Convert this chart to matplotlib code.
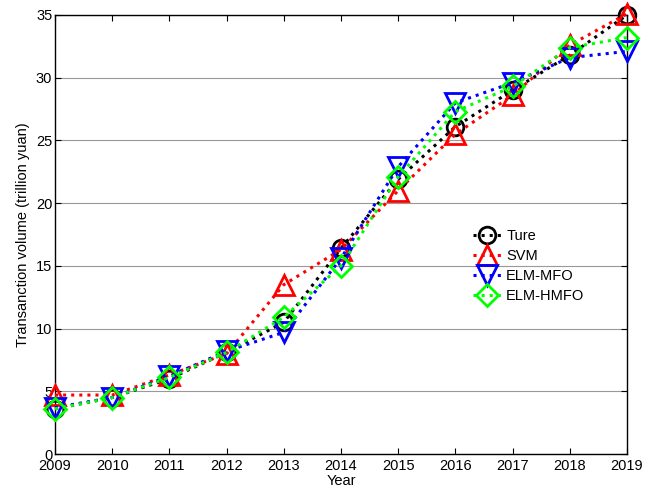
import numpy as np
import matplotlib.pyplot as plt

plt.rcParams['font.family'] = ['Liberation Sans', 'DejaVu Sans']

years = [2009, 2010, 2011, 2012, 2013, 2014, 2015, 2016, 2017, 2018, 2019]
ture = [3.6, 4.5, 6.0, 8.1, 10.5, 16.4, 21.9, 26.1, 29.0, 31.8, 35.0]
svm = [4.7, 4.7, 6.3, 8.0, 13.5, 16.3, 21.0, 25.5, 28.6, 32.6, 35.1]
elm_mfo = [3.7, 4.5, 6.2, 8.2, 9.7, 15.6, 22.9, 28.0, 29.6, 31.6, 32.1]
elm_hmfo = [3.6, 4.5, 6.1, 8.1, 10.9, 15.0, 22.1, 27.3, 29.3, 32.4, 33.2]

series = [
    ('Ture', ture, 'k', 'o', 12),
    ('SVM', svm, 'r', '^', 14),
    ('ELM-MFO', elm_mfo, 'b', 'v', 14),
    ('ELM-HMFO', elm_hmfo, (0, 1, 0), 'D', 11),
]

fig = plt.figure(figsize=(6.51, 4.93), dpi=100)
ax = fig.add_axes([55 / 651, 39 / 493, 572 / 651, 439 / 493])

for name, vals, col, mk, ms in series:
    ax.plot(years, vals, linestyle=':', color=col, linewidth=2.2,
            marker=mk, markersize=ms, markerfacecolor='none',
            markeredgecolor=col, markeredgewidth=2, label=name,
            clip_on=False, zorder=3)

ax.set_xlim(2009, 2019)
ax.set_ylim(0, 35)
ax.set_xticks(years)
ax.set_yticks(np.arange(0, 36, 5))
ax.yaxis.grid(True, color='#999999', linewidth=0.8)
ax.set_axisbelow(True)
ax.tick_params(direction='in', top=True, right=True, labelsize=10.5, length=4)
ax.tick_params(axis='y', pad=2)
for s in ax.spines.values():
    s.set_linewidth(1.0)

ax.set_xlabel('Year', fontsize=10.5, labelpad=1)
ax.set_ylabel('Transanction volume (trillion yuan)', fontsize=10.5, labelpad=4)

ax.legend(loc='upper left', bbox_to_anchor=(0.72, 0.525), frameon=False,
          fontsize=10.5, handlelength=2.0, handletextpad=0.3,
          labelspacing=0.4, borderaxespad=0)

fig.savefig('out.png', dpi=100)
